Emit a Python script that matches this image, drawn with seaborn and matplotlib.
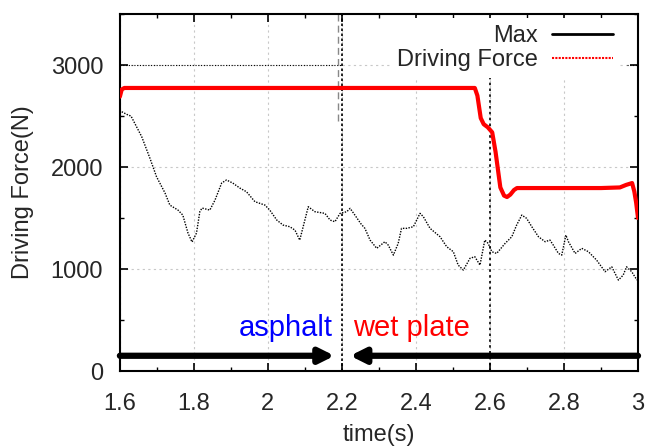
import numpy as np
import pandas as pd
import matplotlib
matplotlib.use("Agg")
import matplotlib.pyplot as plt
from matplotlib.lines import Line2D
from matplotlib.ticker import MultipleLocator
import seaborn as sns

# Maximum transmissible force (noisy estimate)
max_time = [1.605, 1.622, 1.630, 1.659, 1.681, 1.699, 1.722, 1.735, 1.757, 1.770,
            1.784, 1.795, 1.807, 1.816, 1.822, 1.843, 1.857, 1.875, 1.888, 1.905,
            1.924, 1.942, 1.965, 1.992, 2.005, 2.024, 2.041, 2.059, 2.073, 2.086,
            2.109, 2.127, 2.154, 2.168, 2.181, 2.195, 2.213, 2.222, 2.235, 2.251,
            2.262, 2.276, 2.294, 2.316, 2.325, 2.339, 2.352, 2.361, 2.375, 2.393,
            2.411, 2.420, 2.438, 2.465, 2.483, 2.501, 2.514, 2.528, 2.546, 2.559,
            2.573, 2.586, 2.595, 2.605, 2.618, 2.641, 2.659, 2.672, 2.686, 2.699,
            2.713, 2.731, 2.749, 2.762, 2.771, 2.785, 2.794, 2.805, 2.812, 2.830,
            2.848, 2.866, 2.888, 2.911, 2.929, 2.947, 2.960, 2.969, 2.983, 2.997]
max_force = [2542, 2510, 2500, 2297, 2088, 1905, 1745, 1627, 1578, 1529,
             1353, 1265, 1353, 1562, 1598, 1578, 1676, 1843, 1873, 1843,
             1794, 1758, 1660, 1627, 1578, 1480, 1431, 1415, 1382, 1284,
             1611, 1562, 1546, 1480, 1464, 1546, 1562, 1595, 1529, 1445,
             1399, 1284, 1203, 1268, 1235, 1137, 1252, 1399, 1399, 1415,
             1546, 1513, 1399, 1317, 1219, 1170, 1039, 990, 1105, 1121,
             1039, 1284, 1252, 1170, 1153, 1252, 1317, 1431, 1529, 1497,
             1415, 1317, 1268, 1284, 1235, 1153, 1137, 1333, 1268, 1153,
             1203, 1170, 1088, 974, 1022, 892, 941, 1022, 974, 892]

# Commanded driving force
drive_time = [1.600, 1.605, 1.612, 1.700, 2.000, 2.300, 2.559, 2.566, 2.575, 2.583,
              2.594, 2.606, 2.615, 2.628, 2.638, 2.646, 2.655, 2.665, 2.673, 2.700,
              2.800, 2.900, 2.951, 2.968, 2.984, 2.990, 2.995, 3.000]
drive_force = [2690, 2760, 2775, 2775, 2775, 2775, 2775, 2700, 2480, 2420,
               2390, 2340, 2150, 1800, 1720, 1706, 1730, 1775, 1794, 1794,
               1794, 1794, 1800, 1825, 1843, 1760, 1650, 1500]

# Road-surface segments
surface_labels = ["asphalt", "wet plate"]
surface_colors = ["blue", "red"]
surface_change = 2.2
arrow_level = 150
label_level = 420

sns.set_theme(style="white")
plt.rcParams["font.family"] = ["Liberation Sans", "DejaVu Sans"]

fig = plt.figure(figsize=(6.48, 4.46), dpi=100)
ax = fig.add_axes([0.185, 0.168, 0.7996, 0.8006])

df_max = pd.DataFrame({"time": max_time, "force": max_force})
df_drive = pd.DataFrame({"time": drive_time, "force": drive_force})

sns.lineplot(data=df_max, x="time", y="force", ax=ax, color="black",
             linewidth=1.0, linestyle=(0, (1, 1)), zorder=3)
sns.lineplot(data=df_drive, x="time", y="force", ax=ax, color="red",
             linewidth=3.0, zorder=4)

ax.set_xlim(1.6, 3.0)
ax.set_ylim(0, 3500)
ax.xaxis.set_major_locator(MultipleLocator(0.2))
ax.xaxis.set_minor_locator(MultipleLocator(0.1))
ax.yaxis.set_major_locator(MultipleLocator(1000))
ax.yaxis.set_minor_locator(MultipleLocator(500))
ax.set_xticklabels([f"{v:g}" for v in ax.get_xticks()])

ax.tick_params(which="both", direction="in", top=True, right=True,
               bottom=True, left=True, color="black")
ax.tick_params(which="major", length=6, width=1.2, labelsize=17)
ax.tick_params(axis="x", which="major", pad=16)
ax.tick_params(axis="y", which="major", pad=12)
ax.tick_params(which="minor", length=3, width=1.0)
for s in ax.spines.values():
    s.set_color("black")
    s.set_linewidth(1.5)

ax.grid(True, which="major", color="#c8c8c8", linestyle=(0, (2, 3)), linewidth=0.8)
ax.hlines(3000, 1.6, surface_change, color="black", linestyle=(0, (1, 1.5)),
          linewidth=0.8, zorder=1)
ax.hlines(3000, 2.97, 3.0, color="black", linestyle=(0, (1, 1.5)),
          linewidth=0.8, zorder=1)
ax.axvline(surface_change, color="black", linestyle=(0, (1.5, 1.5)), linewidth=1.2, zorder=2)
ax.axvline(2.6, color="black", linestyle=(0, (1.5, 2)), linewidth=1.2, zorder=2)
ax.vlines(2.19, 2450, 3500, color="#888888", linestyle=(0, (5, 3)), linewidth=1.0, zorder=2)

ax.set_xlabel("time(s)", fontsize=17, labelpad=6)
ax.set_ylabel("Driving Force(N)", fontsize=17, labelpad=12)

# Surface arrows and labels
arrow_kw = dict(arrowstyle="-|>", color="black", lw=4.5, mutation_scale=22,
                shrinkA=0, shrinkB=0)
ax.annotate("", xy=(2.18, arrow_level), xytext=(1.6, arrow_level),
            arrowprops=arrow_kw, zorder=5)
ax.annotate("", xy=(2.222, arrow_level), xytext=(3.0, arrow_level),
            arrowprops=arrow_kw, zorder=5)
ax.text(2.175, label_level, surface_labels[0], color=surface_colors[0],
        fontsize=21, ha="right", va="center")
ax.text(2.23, label_level, surface_labels[1], color=surface_colors[1],
        fontsize=21, ha="left", va="center")

handles = [Line2D([], [], color="black", linewidth=2.0),
           Line2D([], [], color="red", linewidth=1.5, linestyle=(0, (1, 0.6)))]
leg = ax.legend(handles, ["Max", "Driving Force"], loc="upper right",
                bbox_to_anchor=(0.966, 0.989),
                markerfirst=False, fontsize=17, handlelength=2.6,
                frameon=True, framealpha=1, facecolor="white", edgecolor="none",
                borderaxespad=0.0, borderpad=0.3, labelspacing=0.1,
                handletextpad=0.6, fancybox=False)
leg.set_zorder(6)

fig.savefig("out.png", dpi=100)
